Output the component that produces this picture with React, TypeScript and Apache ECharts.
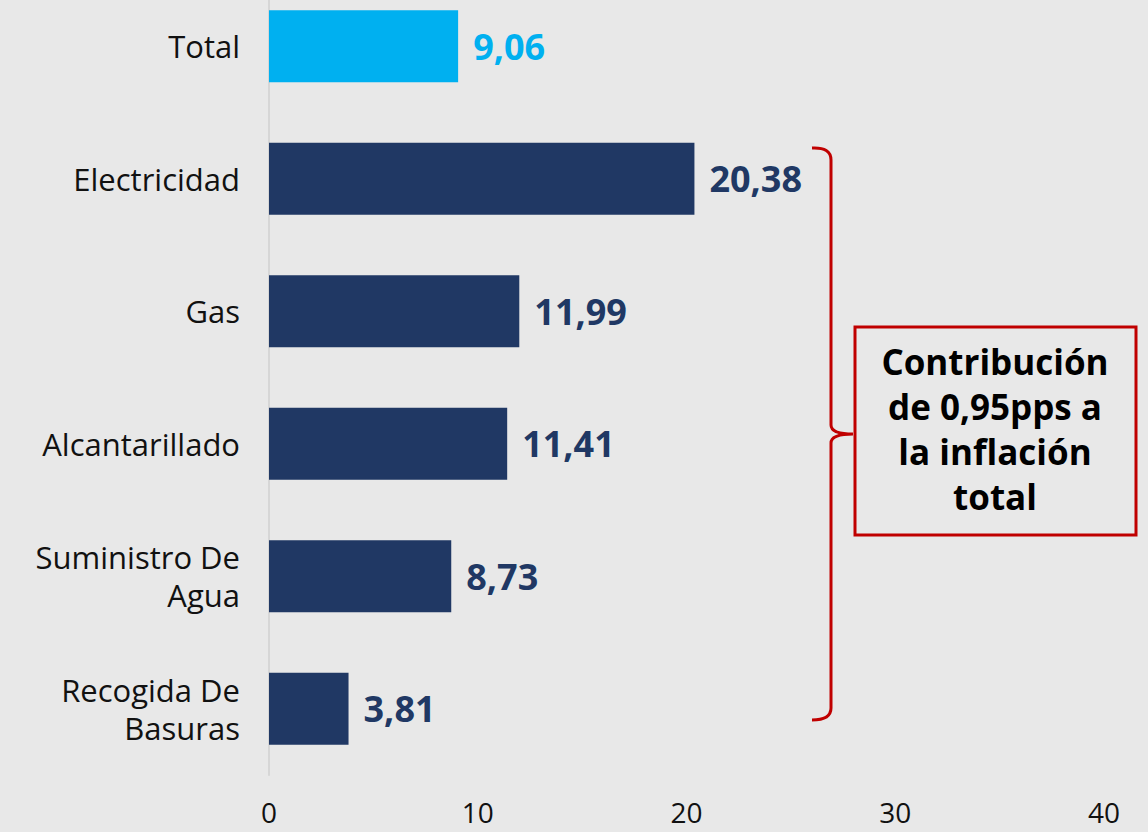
import React, { useEffect, useRef } from "react";
import * as echarts from "echarts";

const categories = ["Total", "Electricidad", "Gas", "Alcantarillado", "Suministro De Agua", "Recogida De Basuras"];
const values = [9.06, 20.38, 11.99, 11.41, 8.73, 3.81];
const barColors = ["#00b0f0", "#203864", "#203864", "#203864", "#203864", "#203864"];
const axisTicks = [0, 10, 20, 30, 40];
const noteLines = ["Contribución", "de 0,95pps a", "la inflación", "total"];

const FONT = "'Open Sans', 'Noto Sans', sans-serif";
const OFF = 20; // chart div is shifted up by this many pixels

export default function App() {
  const ref = useRef<HTMLDivElement>(null);
  useEffect(() => {
    document.body.style.margin = "0";
    if (!ref.current) return;
    echarts.graphic.registerShape(
      "bracket",
      echarts.graphic.extendPath(
        "M812 148 Q831 147 831 160 L831 425 Q831 434 853 434 M831 443 Q831 434 853 434 M831 443 L831 708 Q831 720 812 720",
        {}
      )
    );
    const chart = echarts.init(ref.current, undefined, { renderer: "svg" });
    chart.setOption({
      animation: false,
      backgroundColor: "#e8e8e8",
      grid: { left: 269, right: 44, top: 0, bottom: 57 },
      xAxis: {
        type: "value",
        min: axisTicks[0],
        max: axisTicks[axisTicks.length - 1],
        interval: 10,
        axisLine: { show: false },
        axisTick: { show: false },
        splitLine: { show: false },
        axisLabel: { fontSize: 28, lineHeight: 28, color: "#111", fontFamily: FONT, margin: 23 },
      },
      yAxis: {
        type: "category",
        inverse: true,
        data: categories,
        axisLine: { show: true, lineStyle: { color: "#d6d6d6", width: 2 } },
        axisTick: { show: false },
        axisLabel: {
          fontSize: 31,
          color: "#111",
          fontFamily: FONT,
          margin: 29,
          lineHeight: 38,
          align: "right",
          formatter: (v: string) => v.replace(" De ", " De\n"),
        },
      },
      series: [
        {
          type: "bar",
          barWidth: 72,
          data: values.map((v, i) => ({
            value: v,
            itemStyle: { color: barColors[i] },
            label: { color: barColors[i] },
          })),
          label: {
            show: true,
            position: "right",
            distance: 15,
            fontSize: 36,
            fontWeight: "bold",
            fontFamily: FONT,
            formatter: (p: any) => p.value.toFixed(2).replace(".", ","),
          },
        },
      ],
      graphic: [
        {
          type: "bracket",
          x: 0,
          y: OFF,
          style: { fill: "none", stroke: "#c00000", lineWidth: 3 },
        },
        {
          type: "rect",
          shape: { x: 855, y: 327 + OFF, width: 281, height: 208 },
          style: { fill: "none", stroke: "#c00000", lineWidth: 3 },
        },
        ...noteLines.map((t, i) => ({
          type: "text",
          x: 995,
          y: 361 + OFF + i * 45,
          style: {
            text: t,
            fill: "#000",
            font: `bold 35px ${FONT}`,
            textAlign: "center",
            textVerticalAlign: "middle",
          },
        })),
      ],
    });
    return () => chart.dispose();
  }, []);
  return (
    <div style={{ width: 1148, height: 832, overflow: "hidden", background: "#e8e8e8" }}>
      <div ref={ref} style={{ width: 1148, height: 832 + OFF, marginTop: -OFF }} />
    </div>
  );
}
